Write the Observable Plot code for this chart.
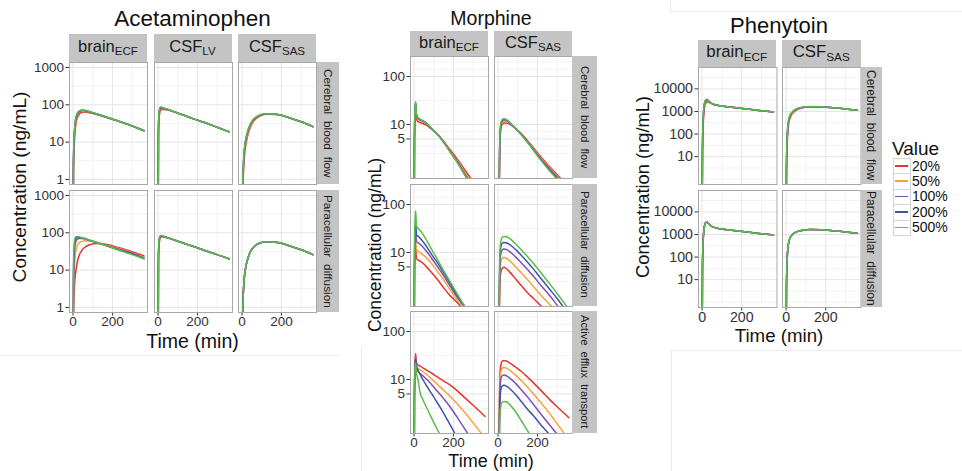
<!DOCTYPE html>
<html><head><meta charset="utf-8">
<script src="https://cdn.jsdelivr.net/npm/d3@7"></script>
<script src="https://cdn.jsdelivr.net/npm/@observablehq/plot@0.6"></script>
<style>
html,body{margin:0;padding:0;background:#fff;}
#fig{position:relative;width:962px;height:471px;overflow:hidden;font-family:"Liberation Sans",Arial,sans-serif;color:#111;background:#fff;}
#fig svg{overflow:visible;max-width:none;background:transparent;}
.strip{position:absolute;background:#c4c4c4;display:flex;align-items:center;justify-content:center;color:#1a1a1a;white-space:nowrap;line-height:1;}
.vtext{writing-mode:vertical-rl;}
.sub{font-size:0.7em;vertical-align:-0.3em;}
.lab{position:absolute;white-space:nowrap;line-height:1;color:#111;z-index:5;}
.sep{position:absolute;background:#ebebeb;}
</style></head><body><div id="fig"></div>
<script>
// ---------- series ----------
const seriesLabels = ["20%", "50%", "100%", "200%", "500%"];
const seriesColors = ["#e8332f", "#f6a43a", "#8050ae", "#3b55ab", "#5cbb4c"];

// ---------- Acetaminophen ----------
const acetaTime = [0, 2, 5, 10, 15, 20, 30, 45, 60, 90, 120, 180, 240, 300, 360];
const acetaBrainCBF = [
  [0.001, 1.5, 6, 18, 32, 42, 55, 63, 64, 60, 55, 44, 35, 27, 20.5],
  [0.001, 2, 8, 24, 39, 50, 62, 68, 68, 62, 56, 44.5, 35, 27, 20.3],
  [0.001, 2.5, 10, 28, 43, 54, 65, 70, 70, 63, 56.5, 45, 35, 27, 20.1],
  [0.001, 2.8, 11, 30, 46, 56, 67, 71, 70.5, 63.5, 57, 45, 35, 27, 20],
  [0.001, 3, 12, 32, 48, 58, 68, 72, 71, 64, 57, 45, 35, 27, 20]
];
const acetaLVCBF = [
  [0.001, 12, 40, 66, 73, 75, 75, 73, 70, 62, 55, 42, 33, 25, 19],
  [0.001, 16, 48, 73, 79, 80, 78, 75, 71, 62.5, 55, 42, 33, 25, 19],
  [0.001, 20, 55, 78, 84, 83, 80, 76, 71.5, 62.5, 55, 42, 33, 25, 19],
  [0.001, 23, 59, 82, 86.5, 85, 81, 76.5, 72, 63, 55, 42, 33, 25, 19],
  [0.001, 25, 62, 86, 88, 86, 82, 77, 72, 63, 55, 42, 33, 25, 19]
];
const acetaSASCBF = [
  [0.001, 0.15, 0.8, 3, 6, 9, 16, 27, 37, 50, 56, 55, 45, 35, 26],
  [0.001, 0.2, 1.0, 3.7, 7, 10.5, 18, 29, 39, 51, 57, 55, 45, 35, 26],
  [0.001, 0.25, 1.2, 4.3, 8, 11.8, 19.5, 31, 40.5, 52, 57.5, 55, 45, 35, 26],
  [0.001, 0.28, 1.4, 4.7, 8.6, 12.5, 20.5, 32, 41.5, 52.5, 58, 55, 45, 35, 26],
  [0.001, 0.3, 1.5, 5, 9, 13, 21, 33, 42, 53, 58, 55, 45, 35, 26]
];
const acetaBrainPara = [
  [0.001, 0.5, 2, 6, 10, 15, 24, 34, 41, 49, 52, 48, 39, 31, 24],
  [0.001, 1.5, 7, 22, 35, 43, 53, 59, 61, 59, 55, 45, 37, 29, 22],
  [0.001, 3.5, 17, 45, 60, 66, 70, 70, 68, 61, 55, 44, 35, 28, 21],
  [0.001, 6, 28, 60, 71, 75, 76, 73, 70, 62, 55, 43, 34, 27, 20.5],
  [0.001, 10, 40, 72, 79, 80, 78, 74, 70, 62, 55, 43, 33, 26, 20]
];
const acetaLVPara = [
  [0.001, 15, 45, 70, 77, 78, 77, 74, 70, 62, 55, 43, 33, 26, 20],
  [0.001, 18, 50, 74, 80, 80.5, 78.5, 74.5, 70.5, 62, 55, 43, 33, 26, 20],
  [0.001, 21, 55, 78, 82.5, 82, 79, 74.8, 70.8, 62, 55, 43, 33, 26, 20],
  [0.001, 23, 59, 80, 84, 83, 79.5, 75, 71, 62, 55, 43, 33, 26, 20],
  [0.001, 25, 62, 82, 85, 84, 80, 75, 71, 62, 55, 43, 33, 26, 20]
];
const acetaSASParaAll = [0.001, 0.3, 1.5, 5, 9, 13, 21, 33, 42, 53, 58, 55, 45, 35, 26];
const acetaSASPara = [acetaSASParaAll, acetaSASParaAll, acetaSASParaAll, acetaSASParaAll, acetaSASParaAll];

// ---------- Morphine ----------
const morphTime = [0, 2, 5, 8, 12, 20, 30, 45, 60, 90, 120, 150, 180, 220, 260, 300, 360];
const morphBrainCBF = [
  [0.001, 3, 14, 20, 13, 11.5, 11, 10.5, 9.8, 7.9, 6.2, 4.5, 3.1, 1.9, 1.1, 0.65, 0.3],
  [0.001, 4, 18, 26, 15, 12.8, 12.2, 11.4, 10.5, 8.0, 6.2, 4.4, 2.95, 1.75, 0.97, 0.55, 0.24],
  [0.001, 4.5, 20, 28, 16, 13.4, 12.6, 11.7, 10.8, 8.1, 6.2, 4.35, 2.88, 1.67, 0.9, 0.5, 0.21],
  [0.001, 5, 21, 29, 16.5, 13.7, 12.8, 11.9, 10.9, 8.15, 6.2, 4.3, 2.84, 1.63, 0.87, 0.47, 0.19],
  [0.001, 5, 22, 30, 17, 14, 13, 12, 11, 8.2, 6.2, 4.3, 2.8, 1.6, 0.85, 0.45, 0.18]
];
const morphSASCBF = [
  [0.001, 0.005, 0.15, 1.8, 6.5, 10, 10.8, 10.7, 10.1, 8.2, 6.3, 4.6, 3.3, 2.05, 1.35, 0.9, 0.5],
  [0.001, 0.007, 0.2, 2.3, 7.5, 11, 11.8, 11.5, 10.6, 8.2, 6.2, 4.45, 3.15, 1.93, 1.27, 0.84, 0.45],
  [0.001, 0.008, 0.25, 2.6, 8.2, 11.7, 12.5, 12.0, 10.8, 8.2, 6.1, 4.35, 3.05, 1.85, 1.2, 0.79, 0.4],
  [0.001, 0.009, 0.28, 2.8, 8.6, 12.1, 12.9, 12.3, 10.9, 8.2, 6.05, 4.25, 2.95, 1.8, 1.15, 0.75, 0.36],
  [0.001, 0.01, 0.3, 3, 9, 12.5, 13.2, 12.5, 11, 8.2, 6.0, 4.2, 2.9, 1.75, 1.1, 0.72, 0.33]
];
const morphBrainPara = [
  [0.001, 2, 9, 14, 7.5, 7, 6.6, 6, 5.2, 3.8, 2.7, 1.85, 1.3, 0.9, 0.58, 0.35, 0.15],
  [0.001, 2.5, 12, 18, 11.5, 10.7, 10, 9, 8, 5.8, 4, 2.7, 1.75, 1.0, 0.68, 0.38, 0.14],
  [0.001, 4, 20, 32, 17, 16, 15, 13, 11, 7.5, 5, 3.3, 2.1, 1.15, 0.72, 0.36, 0.12],
  [0.001, 5, 28, 44, 23, 22, 20, 17, 14, 9, 6, 3.8, 2.4, 1.25, 0.7, 0.36, 0.12],
  [0.001, 8, 45, 74, 36, 32, 29, 24, 19, 11.5, 7, 4.2, 2.6, 1.35, 0.72, 0.37, 0.13]
];
const morphSASPara = [
  [0.001, 0.005, 0.15, 1.2, 3.4, 4.6, 4.9, 4.5, 3.9, 2.8, 2.0, 1.45, 1.1, 0.76, 0.5, 0.32, 0.15],
  [0.001, 0.008, 0.24, 2.0, 5.5, 7.5, 7.9, 7.5, 6.7, 5.0, 3.7, 2.7, 1.95, 1.25, 0.85, 0.55, 0.25],
  [0.001, 0.012, 0.35, 3.0, 8.3, 11.2, 11.8, 11.4, 10.4, 8.0, 6.0, 4.4, 3.2, 2.0, 1.3, 0.8, 0.38],
  [0.001, 0.016, 0.5, 4.0, 11.3, 15.4, 16.2, 15.8, 14.6, 11.5, 8.6, 6.3, 4.5, 2.8, 1.75, 1.1, 0.5],
  [0.001, 0.02, 0.65, 5.4, 15, 20.4, 21.5, 21, 19.5, 15, 11.2, 8.2, 5.9, 3.7, 2.3, 1.4, 0.65]
];
const morphBrainEfflux = [
  [0.001, 5, 22, 35, 22, 20, 19, 17.5, 16, 13.5, 11.2, 9.3, 7.8, 5.8, 4.1, 2.9, 1.7],
  [0.001, 4.5, 18, 28, 19, 17, 16, 14.5, 13, 10.2, 7.8, 6, 4.6, 3.1, 2.0, 1.25, 0.6],
  [0.001, 4.2, 16, 26, 17, 14.8, 13.5, 12, 10.5, 7.8, 5.6, 4.0, 2.8, 1.6, 0.9, 0.5, 0.22],
  [0.001, 4.8, 18, 28, 20, 15.5, 13, 10, 7.8, 5.0, 3.2, 2.0, 1.2, 0.6, 0.3, 0.15, 0.06],
  [0.001, 4, 16, 22, 14, 10, 5.5, 3.8, 2.8, 1.55, 0.88, 0.5, 0.29, 0.14, 0.07, 0.035, 0.015]
];
const morphSASEfflux = [
  [0.001, 0.025, 0.75, 6.2, 17.5, 23.7, 25, 24, 22, 18, 14.5, 11.2, 8.5, 5.8, 3.9, 2.7, 1.6],
  [0.001, 0.018, 0.53, 4.5, 12.5, 16.9, 17.8, 17, 15.5, 12.2, 9.3, 6.9, 5.0, 3.2, 2.0, 1.2, 0.55],
  [0.001, 0.012, 0.37, 3.1, 8.7, 11.8, 12.4, 11.8, 10.7, 8.2, 6.0, 4.3, 3.0, 1.85, 1.15, 0.72, 0.33],
  [0.001, 0.008, 0.23, 1.9, 5.3, 7.2, 7.6, 7.2, 6.4, 4.8, 3.4, 2.4, 1.75, 1.1, 0.72, 0.45, 0.2],
  [0.001, 0.0035, 0.1, 0.9, 2.4, 3.3, 3.5, 3.4, 3.0, 2.1, 1.35, 0.85, 0.55, 0.3, 0.17, 0.1, 0.04]
];

// ---------- Phenytoin ----------
const phenTime = [0, 2, 5, 10, 15, 20, 25, 30, 40, 60, 90, 120, 180, 240, 300, 360];
const phenBrainCBF = [
  [0.001, 8, 150, 1000, 1900, 2400, 2600, 2600, 2400, 2050, 1800, 1650, 1430, 1240, 1080, 940],
  [0.001, 12, 220, 1300, 2300, 2850, 3000, 2850, 2450, 2050, 1800, 1650, 1430, 1240, 1080, 940],
  [0.001, 18, 290, 1500, 2550, 3100, 3250, 3000, 2520, 2050, 1800, 1650, 1430, 1240, 1080, 940],
  [0.001, 24, 350, 1650, 2750, 3250, 3380, 3100, 2560, 2050, 1800, 1650, 1430, 1240, 1080, 940],
  [0.001, 30, 400, 1800, 2900, 3400, 3500, 3200, 2600, 2050, 1800, 1650, 1430, 1240, 1080, 940]
];
const phenSASCBF = [
  [0.001, 1, 25, 150, 340, 500, 640, 760, 960, 1250, 1490, 1610, 1590, 1450, 1290, 1120],
  [0.001, 2, 35, 190, 400, 570, 710, 820, 1030, 1300, 1520, 1620, 1595, 1450, 1290, 1120],
  [0.001, 2.8, 45, 230, 460, 640, 770, 880, 1080, 1330, 1540, 1630, 1598, 1450, 1290, 1120],
  [0.001, 3.5, 52, 255, 490, 670, 800, 905, 1105, 1350, 1550, 1635, 1600, 1450, 1290, 1120],
  [0.001, 4, 60, 280, 520, 700, 830, 930, 1130, 1370, 1560, 1640, 1600, 1450, 1290, 1120]
];
const phenBrainParaAll = [0.001, 30, 400, 1800, 2900, 3400, 3500, 3200, 2600, 2050, 1800, 1650, 1430, 1240, 1080, 940];
const phenSASParaAll = [0.001, 4, 60, 280, 520, 700, 830, 930, 1130, 1370, 1560, 1640, 1600, 1450, 1290, 1120];
const phenBrainPara = [phenBrainParaAll, phenBrainParaAll, phenBrainParaAll, phenBrainParaAll, phenBrainParaAll];
const phenSASPara = [phenSASParaAll, phenSASParaAll, phenSASParaAll, phenSASParaAll, phenSASParaAll];

// ---------- labels / ticks ----------
const timeTicks = [0, 200];
const timeMinor = [100, 300];
const acetaYTicks = [1, 10, 100, 1000];
const acetaYMinor = [3.162, 31.62, 316.2];
const morphYTicks = [5, 10, 100];
const morphYMinor = [2.5, 3.54, 7.07, 31.62, 141.4, 200];
const phenYTicks = [10, 100, 1000, 10000];
const phenYMinor = [1, 3.162, 31.62, 316.2, 3162, 31623];
const colsAceta = ["brain<span class='sub'>ECF</span>", "CSF<span class='sub'>LV</span>", "CSF<span class='sub'>SAS</span>"];
const colsTwo = ["brain<span class='sub'>ECF</span>", "CSF<span class='sub'>SAS</span>"];
const rowsNames = ["Cerebral blood flow", "Paracellular diffusion", "Active efflux transport"];

// ---------- drawing ----------
const fig = document.getElementById("fig");
function put(el, left, top) {
  el.style.position = "absolute"; el.style.left = left + "px"; el.style.top = top + "px";
  fig.appendChild(el); return el;
}
function div(cls, html, css) {
  const d = document.createElement("div"); d.className = cls; d.innerHTML = html;
  Object.assign(d.style, css || {}); fig.appendChild(d); return d;
}
const TS = 3.5, TP = 2;

function drawPanel(o) {
  const rows = [];
  o.series.forEach((vals, si) => vals.forEach((v, i) => rows.push({t: o.time[i], c: v, s: seriesLabels[si]})));
  const ML = o.showY ? 60 : 0, MB = o.showX ? 24 : 0;
  // d3's log tickFormat blanks non-power-of-ten labels; add them as text beside the axis
  const extraLabels = o.showY ? o.ticks.filter(t => Math.abs(Math.log10(t) - Math.round(Math.log10(t))) > 1e-9) : [];
  const svg = Plot.plot({
    width: o.w + ML, height: o.h + MB,
    marginLeft: ML, marginRight: 0, marginTop: 0, marginBottom: MB,
    style: {fontSize: o.fs + "px", fontFamily: "Liberation Sans, Arial, sans-serif", color: "#333", background: "transparent"},
    x: {domain: [-18, 378], ticks: timeTicks, tickFormat: d => String(d), tickSize: TS, tickPadding: 0.5, label: null, axis: o.showX ? "bottom" : null},
    y: {type: "log", domain: o.dom, ticks: o.ticks, tickFormat: d => String(d), tickSize: TS, tickPadding: TP, label: null, axis: o.showY ? "left" : null},
    color: {domain: seriesLabels, range: seriesColors},
    marks: [
      Plot.ruleY(o.minor, {stroke: "#f2f2f2", strokeWidth: 1}),
      Plot.ruleX(timeMinor, {stroke: "#f2f2f2", strokeWidth: 1}),
      Plot.ruleY(o.ticks, {stroke: "#e4e4e4", strokeWidth: 1}),
      Plot.ruleX(timeTicks, {stroke: "#e4e4e4", strokeWidth: 1}),
      Plot.line(rows, {x: "t", y: "c", z: "s", stroke: "s", strokeWidth: 1.5, curve: "monotone-x", clip: true}),
      Plot.frame({stroke: "#a8a8a8", strokeWidth: 1}),
      Plot.text(extraLabels, {y: d => d, text: d => String(d), frameAnchor: "left", dx: -(TS + TP), textAnchor: "end", lineAnchor: "middle", fill: "currentColor"})
    ]
  });
  put(svg, o.x - ML, o.y);
}

function drawDrug(d) {
  d.data.forEach((row, ri) => row.forEach((series, ci) => {
    drawPanel({x: d.cols[ci], y: d.rows[ri], w: d.w, h: d.h, time: d.time, series,
      dom: d.dom, ticks: d.ticks, minor: d.minor, fs: d.fs,
      showY: ci === 0, showX: ri === d.rows.length - 1});
  }));
  d.colNames.forEach((name, ci) => {
    div("strip", "<span>" + name + "</span>", {left: d.cols[ci] + "px", top: d.stripY + "px", width: d.w + "px", height: d.stripH + "px", fontSize: d.stripFs + "px"});
  });
  d.rows.forEach((ry, ri) => {
    div("strip", "<span class='vtext'>" + rowsNames[ri] + "</span>", {left: d.rowStripX + "px", top: ry + "px", width: d.rowStripW + "px", height: d.h + "px", fontSize: d.rowFs + "px", wordSpacing: d.wordSp + "px"});
  });
  div("lab", d.title, {left: (d.cx - 150) + "px", width: "300px", textAlign: "center", top: d.titleTop + "px", fontSize: d.titleFs + "px"});
  div("lab", "Time (min)", {left: (d.cx - 150) + "px", width: "300px", textAlign: "center", top: d.xLabTop + "px", fontSize: d.xLabFs + "px"});
  div("lab", "Concentration (ng/mL)", {left: d.yLabX + "px", top: d.yLabY + "px", fontSize: d.yLabFs + "px", transform: "translate(-50%,-50%) rotate(-90deg)"});
}

// separators (faint frame edges of the composite)
div("sep", "", {left: "0px", top: "355px", width: "340px", height: "1px"});
div("sep", "", {left: "361px", top: "347px", width: "1px", height: "124px"});
div("sep", "", {left: "670px", top: "11px", width: "292px", height: "1px"});
div("sep", "", {left: "670px", top: "0px", width: "1px", height: "11px"});
div("sep", "", {left: "670px", top: "350px", width: "292px", height: "1px"});
div("sep", "", {left: "671px", top: "350px", width: "1px", height: "121px"});

drawDrug({
  title: "Acetaminophen", time: acetaTime, dom: [0.731, 1361], ticks: acetaYTicks, minor: acetaYMinor, fs: 13.5,
  cols: [69, 153.5, 238], rows: [62, 190], w: 78, h: 122,
  data: [[acetaBrainCBF, acetaLVCBF, acetaSASCBF], [acetaBrainPara, acetaLVPara, acetaSASPara]],
  colNames: colsAceta, stripY: 34, stripH: 28, stripFs: 16.5,
  rowStripX: 316.5, rowStripW: 22, rowFs: 11.8, wordSp: 3.5,
  cx: 192.5, titleTop: 8, titleFs: 22.5, xLabTop: 332, xLabFs: 19.5, yLabX: 20, yLabY: 187, yLabFs: 19.2
});
drawDrug({
  title: "Morphine", time: morphTime, dom: [0.75, 261], ticks: morphYTicks, minor: morphYMinor, fs: 13.5,
  cols: [410, 494], rows: [56, 183.5, 311], w: 78, h: 122,
  data: [[morphBrainCBF, morphSASCBF], [morphBrainPara, morphSASPara], [morphBrainEfflux, morphSASEfflux]],
  colNames: colsTwo, stripY: 31, stripH: 25, stripFs: 16.5,
  rowStripX: 572, rowStripW: 24.5, rowFs: 11.2, wordSp: 3,
  cx: 491, titleTop: 8.5, titleFs: 19.5, xLabTop: 452, xLabFs: 18, yLabX: 376, yLabY: 244.5, yLabFs: 17.5
});
drawDrug({
  title: "Phenytoin", time: phenTime, dom: [0.585, 88500], ticks: phenYTicks, minor: phenYMinor, fs: 14.2,
  cols: [697.5, 782], rows: [66.5, 190], w: 78.5, h: 117,
  data: [[phenBrainCBF, phenSASCBF], [phenBrainPara, phenSASPara]],
  colNames: colsTwo, stripY: 40, stripH: 26.5, stripFs: 16.8,
  rowStripX: 860.5, rowStripW: 21.5, rowFs: 12, wordSp: 3.5,
  cx: 779, titleTop: 14.5, titleFs: 22, xLabTop: 326.5, xLabFs: 18.7, yLabX: 642.5, yLabY: 186.7, yLabFs: 18.3
});

// legend
div("lab", "Value", {left: "892px", top: "138.5px", fontSize: "19px"});
seriesLabels.forEach((lab, i) => {
  const top = 158 + i * 15.4;
  div("lab", "", {left: "893px", top: top + "px", width: "16px", height: "14.4px", border: "1px solid #d6d6d6", background: "#fff"});
  div("lab", "", {left: "895px", top: (top + 7) + "px", width: "13px", height: "1.6px", background: seriesColors[i]});
  div("lab", lab, {left: "912px", top: (top + 0.5) + "px", fontSize: "14px", lineHeight: "15.4px"});
});
</script></body></html>
